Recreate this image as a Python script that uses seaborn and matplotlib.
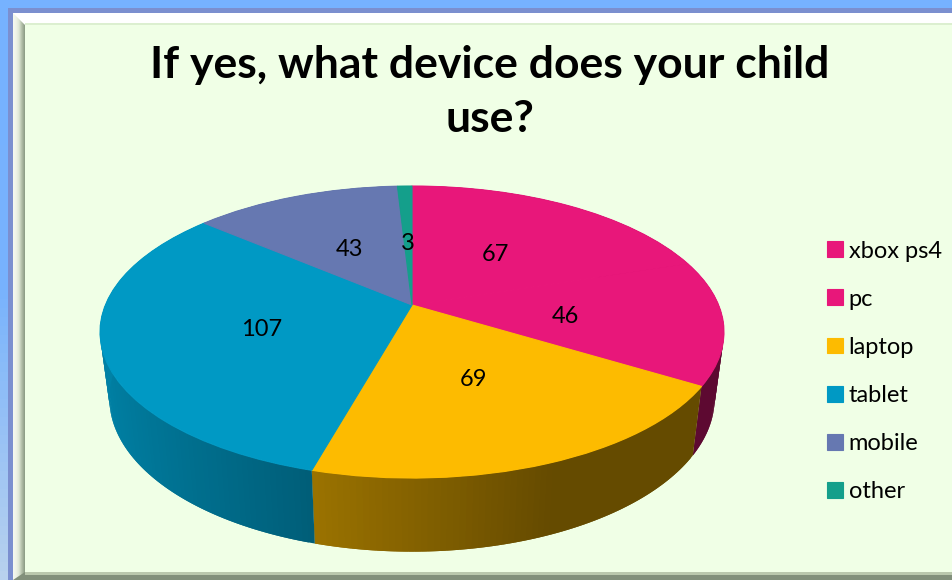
# plot.py - 3D looking pie chart of devices used by children
import numpy as np
import matplotlib
matplotlib.use("Agg")
import matplotlib.pyplot as plt
from matplotlib.patches import Rectangle, Polygon
from matplotlib.transforms import Transform, Affine2D
from matplotlib.colors import LinearSegmentedColormap
import seaborn as sns

# --- data ---
devices = ['xbox ps4', 'pc', 'laptop', 'tablet', 'mobile', 'other']
counts = [67, 46, 69, 107, 43, 3]
slice_colors = ['#E8177A', '#E8177A', '#FDBB00', '#0099C4', '#6678B1', '#149F8B']
title_text = 'If yes, what device does your child\nuse?'

# --- layout, everything in image pixels ---
W, H = 953, 580
CX, CY = 412, 305      # where the slices meet
PERSP_X, PERSP_Y, PERSP_B = 306.6, 141.0, 0.185
DEPTH, BOTTOM_SCALE_X, BOTTOM_SCALE_Y = 65, 0.97, 1.05

sns.set_theme(style="white")
plt.rcParams['font.family'] = ['Lato', 'DejaVu Sans']
palette = sns.color_palette(slice_colors)


class TiltTransform(Transform):
    """Projects the unit pie disc onto the tilted top face, in pixels."""
    input_dims = output_dims = 2
    is_separable = False
    has_inverse = False

    def transform_non_affine(self, values):
        values = np.asarray(values, dtype=float)
        w = 1 + PERSP_B * values[:, 1]
        return np.column_stack([CX + PERSP_X * values[:, 0] / w,
                                CY - PERSP_Y * values[:, 1] / w])


tilt = TiltTransform()


def rim(theta, level):
    # theta is clockwise from 12 o'clock, level 0 = top face, 1 = bottom face
    pts = tilt.transform_non_affine(np.column_stack([np.sin(theta), np.cos(theta)]))
    pts[:, 0] = CX + (pts[:, 0] - CX) * (1 + (BOTTOM_SCALE_X - 1) * level)
    pts[:, 1] = CY + (pts[:, 1] - CY) * (1 + (BOTTOM_SCALE_Y - 1) * level) + DEPTH * level
    return pts


fig = plt.figure(figsize=(W / 100, H / 100), dpi=100, facecolor='#77B2FF')
ax = fig.add_axes([0, 0, 1, 1])

# --- frame ---
outer = LinearSegmentedColormap.from_list('outer', ['#76B2FF', '#78B3FD', '#B8D1EE'])
ax.imshow(np.linspace(0, 1, 64).reshape(-1, 1), cmap=outer, extent=(0, W, H, 0), aspect='auto', zorder=0)
ax.add_patch(Rectangle((8, 8), W, H, fc='#7B8FCF', ec='none', zorder=1))
ax.add_patch(Rectangle((13, 13), W, H, fc='#FFFFFF', ec='none', zorder=1))
bevel = LinearSegmentedColormap.from_list('bevel', ['#F4F8EE', '#EEF3E6', '#DDE6D5', '#B4C0AA', '#8F9F88'])
ax.imshow(np.linspace(0, 1, 12).reshape(1, -1), cmap=bevel, extent=(13, 25, H, 13), aspect='auto', zorder=1.5)
ax.add_patch(Polygon([(13, 13), (25, 13), (25, 25)], fc='#FFFFFF', ec='none', zorder=1.6))
ax.add_patch(Polygon([(13, 580), (25, 572), (W, 572), (W, 580)], fc='#82907B', ec='none', zorder=1.7))
ax.add_patch(Rectangle((25, 572), W, 3, fc='#BAC8AD', ec='none', zorder=1.8))
ax.add_patch(Rectangle((25, 25), W, 547, fc='#F0FFE6', ec='none', zorder=2))
ax.add_patch(Rectangle((25, 23), W, 2, fc='#DCEFD0', ec='none', zorder=2))

# --- pie top face ---
wedges, labels = ax.pie(counts, colors=palette, labels=[str(c) for c in counts],
                        labeldistance=0.5, startangle=90, counterclock=False,
                        wedgeprops={'linewidth': 0.8}, textprops={'fontsize': 17, 'color': 'black'})
ax.set_aspect('auto')
ax.set_xlim(0, W)
ax.set_ylim(H, 0)
ax.set_axis_off()
for w, color in zip(wedges, palette):
    w.set_transform(tilt + ax.transData)
    w.set_edgecolor(color)
    w.set_zorder(5)
for t in labels:
    t.set_transform(tilt + ax.transData + Affine2D().translate(0, -3))
    t.set_ha('center')
    t.set_va('center')
    t.set_zorder(6)

# --- side wall, small shaded strips per slice, each one overlaps the next ---
edges = np.cumsum([0] + counts) / sum(counts) * 2 * np.pi
for start, end, color in zip(edges[:-1], edges[1:], palette):
    n = max(2, int(np.degrees(end - start)))
    thetas = np.linspace(start, end, n + 1)
    for i in range(n):
        stop = thetas[min(i + 2, n)]
        span = np.linspace(thetas[i], stop, 4)
        shade = max(0.40, 0.524 - 0.326 * np.sin(thetas[i:i + 2].mean()))
        c = tuple(v * shade for v in color)
        top, bottom = rim(span, 0), rim(span, 1)
        ax.fill(np.r_[top[:, 0], bottom[::-1, 0]], np.r_[top[:, 1], bottom[::-1, 1]],
                fc=c, ec='none', zorder=4)

# --- title and legend ---
ax.text(490, 92, title_text, ha='center', va='center', fontsize=32, fontweight='bold',
        color='black', linespacing=1.42, zorder=6)
leg = ax.legend(handles=list(wedges), labels=devices, loc='upper left',
                bbox_to_anchor=(827 / W, 1 - 240.5 / H), frameon=False, fontsize=17,
                labelcolor='black', handlelength=0.66, handleheight=0.66, handletextpad=0.26,
                labelspacing=1.15, borderpad=0, borderaxespad=0)
leg.set_zorder(6)

plt.savefig('out.png', dpi=100)
